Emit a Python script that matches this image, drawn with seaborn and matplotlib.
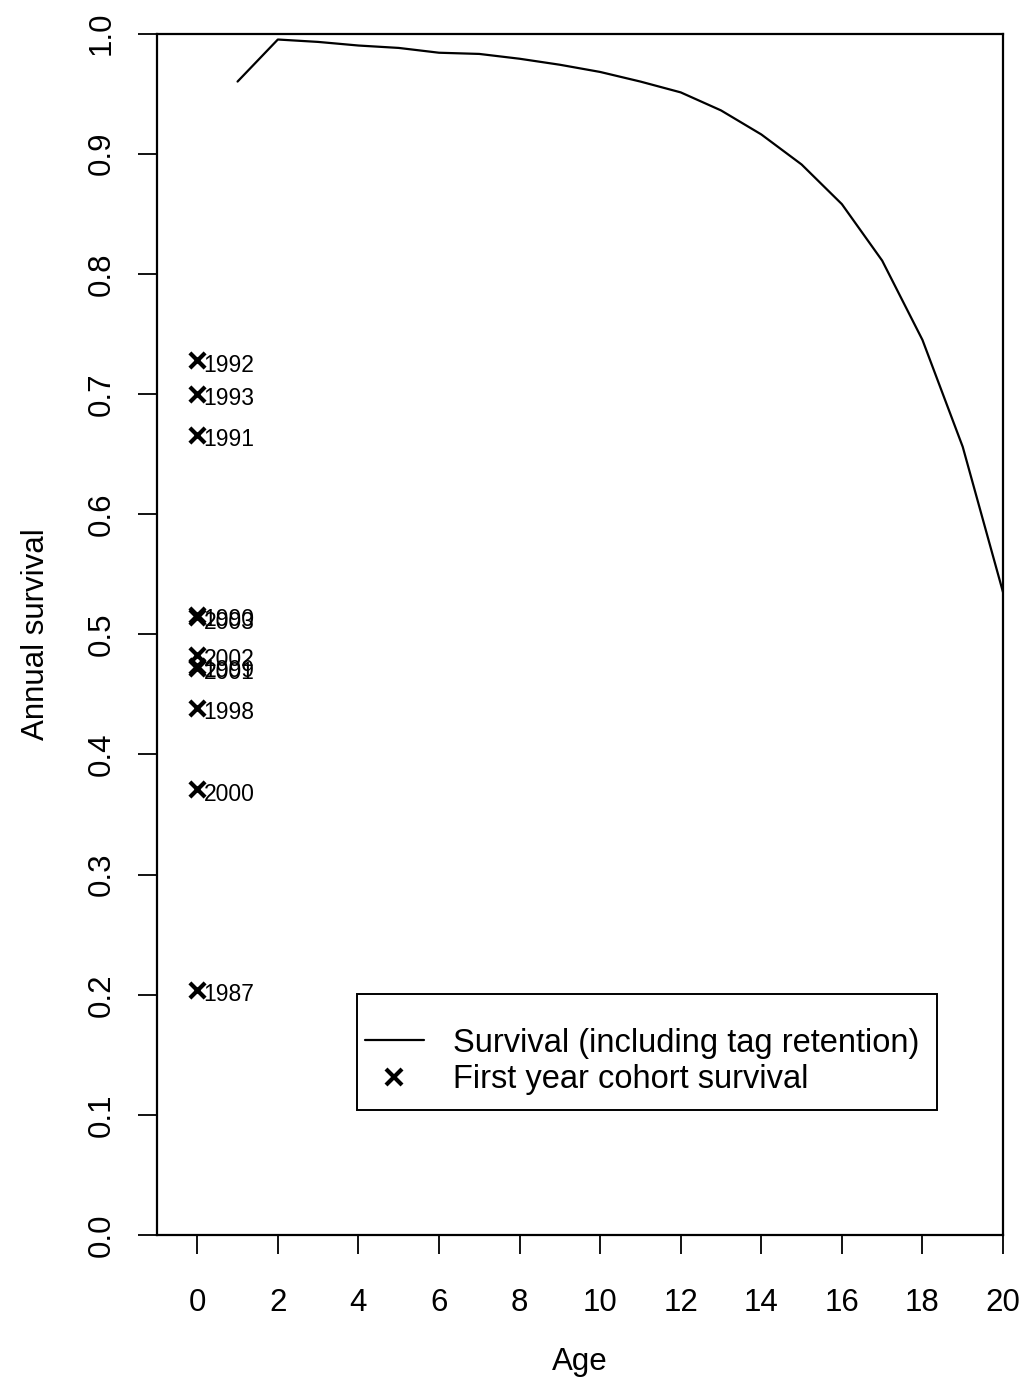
import matplotlib
matplotlib.use("Agg")
import matplotlib.pyplot as plt
from matplotlib.lines import Line2D
from matplotlib.patches import Rectangle
import seaborn as sns
import pandas as pd

# Annual survival by age (including tag retention)
ages = list(range(1, 21))
survival = [0.960, 0.995, 0.993, 0.990, 0.988, 0.984, 0.983, 0.979, 0.974, 0.968,
            0.960, 0.951, 0.936, 0.916, 0.891, 0.858, 0.811, 0.745, 0.656, 0.535]

# First-year survival of individual cohorts (plotted at age 0)
cohort_years = ["1992", "1993", "1991", "1990", "2003", "2002", "1999", "2001",
                "1998", "2000", "1987"]
cohort_survival = [0.728, 0.700, 0.666, 0.516, 0.514, 0.483, 0.474, 0.472,
                   0.439, 0.371, 0.204]

x_ticks = list(range(0, 21, 2))
y_ticks = [round(0.1 * i, 1) for i in range(11)]

sns.set_theme(style="ticks")
plt.rcParams["font.family"] = ["Liberation Sans", "DejaVu Sans"]
plt.rcParams["text.color"] = "black"
plt.rcParams["axes.labelcolor"] = "black"

fig = plt.figure(figsize=(10.28, 13.96), dpi=100)
ax = fig.add_axes([0.1527, 0.1153, 0.8230, 0.8607])

curve = pd.DataFrame({"age": ages, "survival": survival})
cohorts = pd.DataFrame({"age": [0] * len(cohort_years), "survival": cohort_survival,
                        "year": cohort_years})

sns.lineplot(data=curve, x="age", y="survival", ax=ax, color="black", lw=1.6)
sns.scatterplot(data=cohorts, x="age", y="survival", ax=ax, marker="x",
                color="black", s=120, linewidth=3.0, zorder=3)

for yr, val in zip(cohort_years, cohort_survival):
    ax.annotate(yr, xy=(0, val), xytext=(4.5, -3.5), textcoords="offset points",
                ha="left", va="center", fontsize=16.5, color="black")

ax.set_xlim(-1, 20)
ax.set_ylim(0, 1)
ax.set_xticks(x_ticks)
ax.set_yticks(y_ticks)
ax.set_xticklabels([str(t) for t in x_ticks])
ax.set_yticklabels([f"{t:.1f}" for t in y_ticks], rotation=90, va="center")
ax.tick_params(axis="both", direction="out", length=14, width=1.3,
               labelsize=22.5, colors="black")
ax.tick_params(axis="x", pad=24)
ax.tick_params(axis="y", pad=15)

for s in ax.spines.values():
    s.set_visible(True)
    s.set_color("black")
    s.set_linewidth(1.6)

ax.set_xlabel("Age", fontsize=22.5, labelpad=21, color="black")
ax.set_ylabel("Annual survival", fontsize=22.5, labelpad=26, color="black")

# Legend: entries without frame, box drawn around them
handles = [
    Line2D([], [], color="black", lw=1.6),
    Line2D([], [], color="black", marker="x", linestyle="none", markersize=12,
           markeredgewidth=3.0),
]
leg = ax.legend(handles, ["Survival (including tag retention)", "First year cohort survival"],
                loc="upper left", bbox_to_anchor=(0.2459, 0.1725),
                fontsize=23.5, frameon=False, labelcolor="black",
                handlelength=1.8, handletextpad=0.9, borderpad=0,
                labelspacing=0.16, borderaxespad=0)
ax.add_patch(Rectangle((0.2364, 0.104), 0.6856, 0.0967, transform=ax.transAxes,
                       fill=False, edgecolor="black", lw=1.4, zorder=5))

fig.savefig("out.png", dpi=100, facecolor="white")
